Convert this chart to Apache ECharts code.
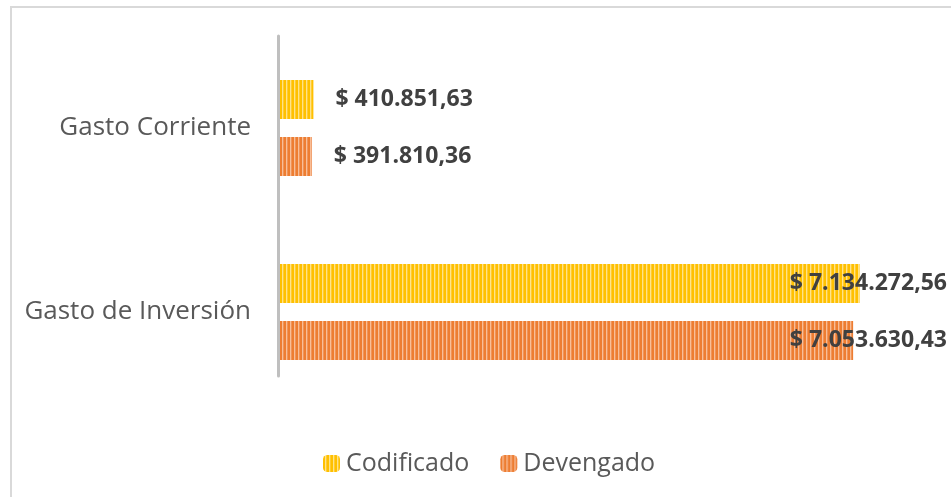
<!DOCTYPE html>
<html>
<head>
<meta charset="utf-8">
<script src="https://cdn.jsdelivr.net/npm/echarts@6/dist/echarts.min.js"></script>
<style>html,body{margin:0;padding:0;background:#fff;}#c{width:951px;height:497px;}</style>
</head>
<body>
<div id="c"></div>
<script>
const categories = ['Gasto Corriente', 'Gasto de Inversión'];
const seriesNames = ['Codificado', 'Devengado'];
const codificado = [410851.63, 7134272.56];
const devengado = [391810.36, 7053630.43];

function stripePattern(cols) {
  const cv = document.createElement('canvas');
  cv.width = cols.length; cv.height = 4;
  const ctx = cv.getContext('2d');
  cols.forEach((c, i) => { ctx.fillStyle = c; ctx.fillRect(i, 0, 1, 4); });
  return { image: cv, repeat: 'repeat' };
}
const yellowPat = stripePattern(['#FFC000', '#FFC000', '#FFE38A', '#FFCC33']);
const orangePat = stripePattern(['#ED7D31', '#ED7D31', '#F8BE98', '#F09458']);

function fmt(v) {
  const parts = v.toFixed(2).split('.');
  const intPart = parts[0].replace(/\B(?=(\d{3})+(?!\d))/g, '.');
  return '$ ' + intPart + ',' + parts[1];
}

const chart = echarts.init(document.getElementById('c'), null, { renderer: 'canvas' });
const W = 951;
const labelStyle = {
  show: true, position: 'right', distance: 22,
  fontFamily: 'Open Sans', fontWeight: 'bold', fontSize: 23, color: '#404040',
  formatter: p => fmt(p.value)
};

chart.setOption({
  animation: false,
  backgroundColor: '#ffffff',
  graphic: [{
    type: 'rect', shape: { x: 11, y: 7, width: 1000, height: 600 },
    style: { fill: 'none', stroke: '#D9D9D9', lineWidth: 2 }, silent: true, z: -1
  }],
  legend: {
    data: seriesNames, left: 318, top: 446, itemWidth: 17, itemHeight: 17, itemGap: 31,
    textStyle: { fontFamily: 'Open Sans', fontSize: 25, color: '#595959', padding: [0, 0, 0, 1] }
  },
  grid: [
    { left: 280, right: 21, top: 36, bottom: 93 },
    { left: 278, right: 21, top: 36, bottom: 121 }
  ],
  xAxis: [
    { type: 'value', min: 0, max: 8000000, show: false, gridIndex: 0 },
    { type: 'value', min: 0, max: 8000000, show: false, gridIndex: 1 }
  ],
  yAxis: [
    {
      type: 'category', data: categories, inverse: true, gridIndex: 0,
      axisLine: { show: false }, axisTick: { show: false },
      axisLabel: { margin: 29, fontFamily: 'Open Sans', fontSize: 26, color: '#595959' }
    },
    {
      type: 'category', data: [''], gridIndex: 1,
      axisLine: { show: true, lineStyle: { color: '#BFBFBF', width: 3 } },
      axisTick: { show: false }, axisLabel: { show: false }
    }
  ],
  series: [
    {
      name: seriesNames[0], type: 'bar', data: codificado, barWidth: 39, barGap: '46%',
      xAxisIndex: 0, yAxisIndex: 0,
      itemStyle: { color: yellowPat }, label: labelStyle
    },
    {
      name: seriesNames[1], type: 'bar', data: devengado, barWidth: 39, barGap: '46%',
      xAxisIndex: 0, yAxisIndex: 0,
      itemStyle: { color: orangePat }, label: labelStyle
    }
  ],
  labelLayout: function (params) {
    const r = params.labelRect;
    if (r.x + r.width > W - 4) {
      return { x: W - 4, y: params.rect.y + params.rect.height / 2, align: 'right', verticalAlign: 'middle' };
    }
    return {};
  }
});
</script>
</body>
</html>
